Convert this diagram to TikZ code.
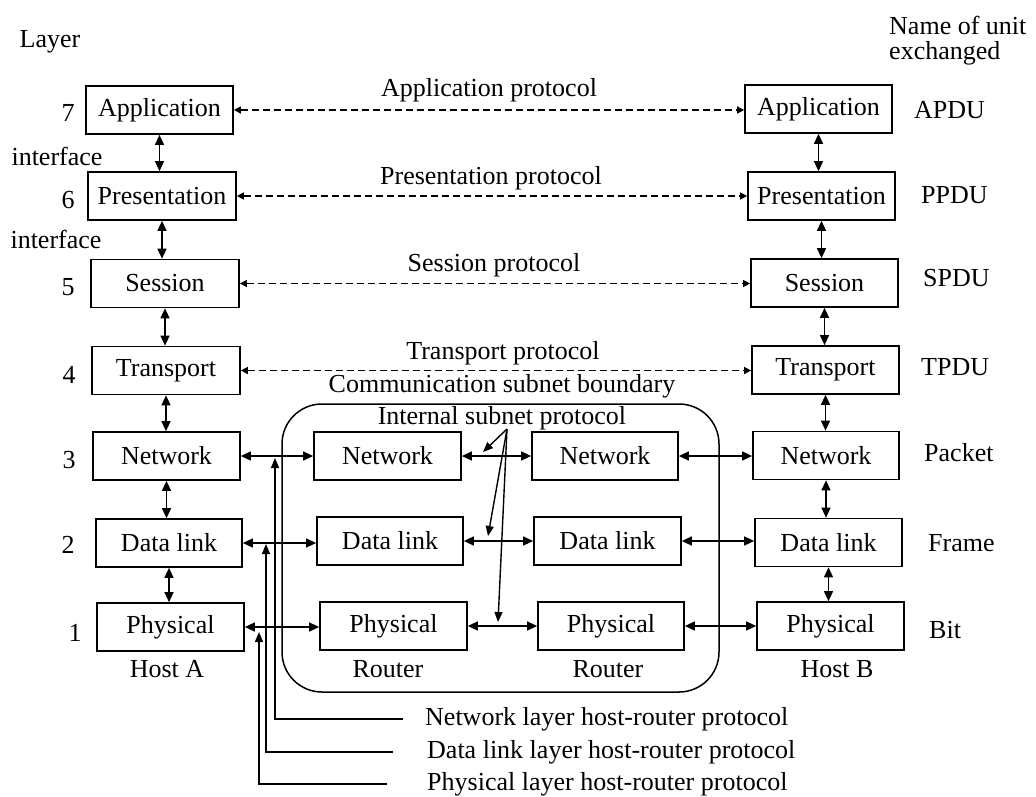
\documentclass[tikz,border=0pt]{standalone}
\usepackage{fontspec}
\setmainfont{Liberation Serif}
\usetikzlibrary{arrows.meta}
\begin{document}
\begin{tikzpicture}[x=1pt,y=-1pt,
  font=\fontsize{26}{30}\selectfont,
  layerbox/.style={draw, line width=1.7pt, minimum height=48pt, inner sep=0pt},
  link/.style={line width=1.4pt, {Triangle[length=10pt,width=9pt]}-{Triangle[length=10pt,width=9pt]}},
  peer/.style={line width=1.4pt, dash pattern=on 7pt off 4pt, {Triangle[length=7pt,width=7pt]}-{Triangle[length=7pt,width=7pt]}},
  pointer/.style={line width=1.4pt, -{Triangle[length=10pt,width=8pt]}},
  lbl/.style={inner sep=0pt}]
\useasboundingbox (0,0) rectangle (1036,796);

% column headings
\node[lbl] (hLayer) at (50,42) {Layer};
\node[lbl, align=left, anchor=north west, font=\fontsize{26}{25}\selectfont] (hUnit) at (889,16) {Name of unit\\exchanged};

% host A stack
\node[layerbox, minimum width=147pt] (LApp)  at (159.5,110) {Application};
\node[layerbox, minimum width=148pt] (LPres) at (162,196)   {Presentation};
\node[layerbox, minimum width=148pt] (LSes)  at (165,283.5) {Session};
\node[layerbox, minimum width=148pt] (LTra)  at (166,370.5) {Transport};
\node[layerbox, minimum width=147pt] (LNet)  at (166.5,456) {Network};
\node[layerbox, minimum width=146pt] (LDl)   at (169,543)   {Data link};
\node[layerbox, minimum width=147pt] (LPhy)  at (170.5,627) {Physical};
\node[lbl] (hostA) at (167,669) {Host A};

% host B stack
\node[layerbox, minimum width=147pt] (RApp)  at (818.5,109) {Application};
\node[layerbox, minimum width=147pt] (RPres) at (821.5,196) {Presentation};
\node[layerbox, minimum width=147pt] (RSes)  at (824.5,283) {Session};
\node[layerbox, minimum width=147pt] (RTra)  at (825.5,370) {Transport};
\node[layerbox, minimum width=146pt] (RNet)  at (826,455.5) {Network};
\node[layerbox, minimum width=147pt] (RDl)   at (828.5,542.5) {Data link};
\node[layerbox, minimum width=147pt] (RPhy)  at (830.5,626) {Physical};
\node[lbl] (hostB) at (837,669) {Host B};

% layer numbers and interfaces
\node[lbl] (n7) at (68,113) {7};
\node[lbl] (n6) at (68,200) {6};
\node[lbl] (n5) at (68,287) {5};
\node[lbl] (n4) at (69,375) {4};
\node[lbl] (n3) at (69,460) {3};
\node[lbl] (n2) at (68,545) {2};
\node[lbl] (n1) at (75,633) {1};
\node[lbl] (if1) at (57,156) {interface};
\node[lbl] (if2) at (56,239) {interface};

% unit names
\node[lbl, anchor=west] (uA) at (914,110) {APDU};
\node[lbl, anchor=west] (uP) at (921,195) {PPDU};
\node[lbl, anchor=west] (uS) at (923,278) {SPDU};
\node[lbl, anchor=west] (uT) at (921,367) {TPDU};
\node[lbl, anchor=west] (uK) at (924,453) {Packet};
\node[lbl, anchor=west] (uF) at (928,543) {Frame};
\node[lbl, anchor=west] (uB) at (929,630) {Bit};

% communication subnet
\node[draw, line width=1.5pt, rounded corners=40pt, minimum width=437pt, minimum height=288pt, inner sep=0pt] (subnet) at (500.5,548) {};
\node[lbl] (subnetLbl) at (502,386) {Communication subnet boundary};

\node[layerbox, minimum width=147pt] (N1) at (387.5,456) {Network};
\node[layerbox, minimum width=146pt] (N2) at (605,456)   {Network};
\node[layerbox, minimum width=146pt] (D1) at (390,541)   {Data link};
\node[layerbox, minimum width=147pt] (D2) at (607.5,541) {Data link};
\node[layerbox, minimum width=147pt] (P1) at (393.5,626) {Physical};
\node[layerbox, minimum width=146pt] (P2) at (611,626)   {Physical};
\node[lbl] (r1) at (388,669) {Router};
\node[lbl] (r2) at (608,669) {Router};

% interfaces inside each host
\foreach \a/\b in {LApp/LPres,LPres/LSes,LSes/LTra,LTra/LNet,LNet/LDl,LDl/LPhy,
                   RApp/RPres,RPres/RSes,RSes/RTra,RTra/RNet,RNet/RDl,RDl/RPhy}
  \draw[link] (\a.south) -- (\a.south |- \b.north);

% peer protocols
\node[lbl] (pApp)  at (489,90)  {Application protocol};
\node[lbl] (pPres) at (491,178) {Presentation protocol};
\node[lbl] (pSes)  at (494,265) {Session protocol};
\node[lbl] (pTra)  at (503,353) {Transport protocol};
\foreach \a/\b in {LApp/RApp,LPres/RPres,LSes/RSes,LTra/RTra}
  \draw[peer] (\a.east) -- (\a.east -| \b.west);

% hop-by-hop links
\foreach \a/\b in {LNet/N1,N1/N2,N2/RNet,LDl/D1,D1/D2,D2/RDl,LPhy/P1,P1/P2,P2/RPhy}
  \draw[link] (\a.east) -- (\a.east -| \b.west);

% internal subnet protocol pointers
\node[lbl] (isp) at (502,418) {Internal subnet protocol};
\coordinate (ispFoot) at (507,429);
\coordinate (ispN) at (483,452);
\coordinate (ispD) at (488,536);
\coordinate (ispP) at (498,622);
\draw[pointer] (ispFoot) -- (ispN);
\draw[pointer] (ispFoot) -- (ispD);
\draw[pointer] (ispFoot) -- (ispP);

% host-router protocols
\node[lbl, anchor=west] (hrN) at (425,719) {Network layer host-router protocol};
\node[lbl, anchor=west] (hrD) at (427,752) {Data link layer host-router protocol};
\node[lbl, anchor=west] (hrP) at (427,784) {Physical layer host-router protocol};
\coordinate (hrNtip) at (275,458);
\coordinate (hrDtip) at (266,544);
\coordinate (hrPtip) at (259,632);
\draw[pointer] ([xshift=-22pt]hrN.west) -| (hrNtip);
\draw[pointer] ([xshift=-34pt]hrD.west) -| (hrDtip);
\draw[pointer] ([xshift=-40pt]hrP.west) -| (hrPtip);
\end{tikzpicture}
\end{document}
